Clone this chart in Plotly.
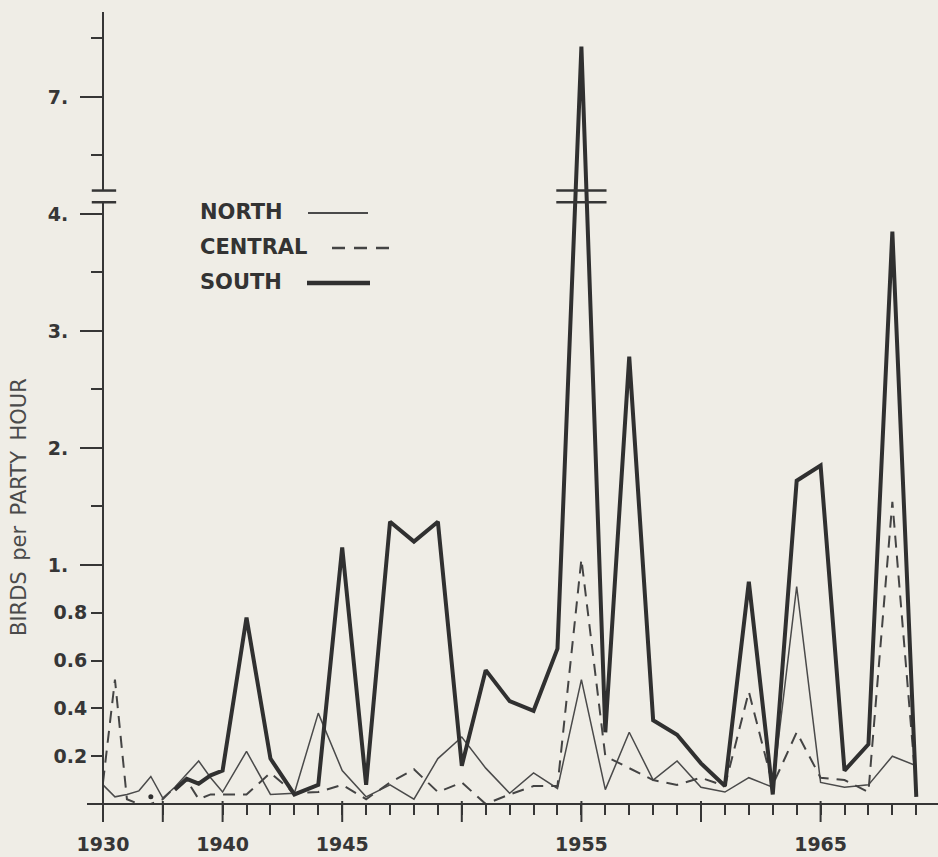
import plotly.graph_objects as go

# ---- data: birds per party hour, Christmas counts 1930-1969 ----
years = list(range(1930, 1970))

north = [0.08, 0.03, 0.04, 0.055, 0.115, 0.025, 0.07, 0.125, 0.18, 0.11,
         0.05, 0.22, 0.04, 0.045, 0.38, 0.14, 0.03, 0.08, 0.02, 0.19,
         0.28, 0.15, 0.045, 0.13, 0.065, 0.52, 0.06, 0.30, 0.10, 0.18,
         0.07, 0.05, 0.11, 0.07, 0.91, 0.09, 0.07, 0.08, 0.20, 0.16]

central = [0.09, 0.52, 0.02, 0.0, 0.0, 0.02, 0.07, 0.10, 0.02, 0.04,
           0.04, 0.04, 0.13, 0.045, 0.05, 0.08, 0.02, 0.09, 0.145, 0.05,
           0.09, 0.0, 0.04, 0.075, 0.075, 1.05, 0.20, 0.15, 0.10, 0.08,
           0.11, 0.075, 0.47, 0.08, 0.30, 0.11, 0.10, 0.05, 1.54, 0.06]

south = [None, None, None, None, 0.03, None, 0.06, 0.105, 0.085, 0.12,
         0.14, 0.78, 0.19, 0.04, 0.08, 1.15, 0.08, 1.37, 1.20, 1.37,
         0.16, 0.56, 0.43, 0.39, 0.65, 7.43, 0.30, 2.78, 0.35, 0.29,
         0.17, 0.075, 0.93, 0.04, 1.72, 1.85, 0.14, 0.25, 3.85, 0.03]

series_names = ["NORTH", "CENTRAL", "SOUTH"]

# axis ticks
y_major_vals = [1, 2, 3, 4, 7]
y_major_text = ["1.", "2.", "3.", "4.", "7."]
y_minor_vals = [0.2, 0.4, 0.6, 0.8, 1.5, 2.5, 3.5, 6.5, 7.5]
y_minor_text = ["0.2", "0.4", "0.6", "0.8", "", "", "", "", ""]
x_major_years = [1930, 1935, 1940, 1945, 1950, 1955, 1960, 1965]
x_major_text = ["1930", "", "1940", "1945", "", "1955", "", "1965"]
x_minor_years = [yr for yr in range(1941, 1970) if yr not in x_major_years]

# ---- piecewise scales ----
BREAK_LO, BREAK_HI = 4.1, 6.2   # values hidden by the axis break
K = 2.043                        # 0-1 band is drawn about twice as tall
PX_PER_UNIT = 117                # pixels per y unit above 1


def ty(v):
    if v is None:
        return None
    if v <= 1:
        return v * K
    if v <= (BREAK_LO + BREAK_HI) / 2:
        return K + (v - 1)
    return K + (v - 1) - (BREAK_HI - BREAK_LO - 0.1)


def tx(yr):
    # the 1930s are drawn at half the yearly spacing
    if yr <= 1940:
        return (yr - 1930) * 0.5
    return 5 + (yr - 1940)


BG = "#efede6"
INK = "#363636"
W, H = 938, 857
ML, MR, MT, MB = 87, 0, 12, 37
X_RANGE = [-0.669, 34.908]
Y_RANGE = [-0.1368, 6.769]
X_AXIS_PX = 804                     # pixel row of the x axis (value 0)
X_AXIS_POS = (H - MB - X_AXIS_PX) / (H - MT - MB)
Y_AXIS_POS = 16 / (W - ML - MR)     # y axis sits at 1930


def pxx(px):
    return (px - ML) / (W - ML - MR)


def pxy(py):
    return (H - MB - py) / (H - MT - MB)


styles = {
    "NORTH": dict(width=1.5, color="#4a4a4a", dash="solid"),
    "CENTRAL": dict(width=2, color="#444444", dash="12px,8px"),
    "SOUTH": dict(width=4, color="#303030", dash="solid"),
}

fig = go.Figure()
for name, vals in zip(series_names, [north, central, south]):
    xs = [tx(y) for y in years]
    ys = [ty(v) for v in vals]
    fig.add_trace(go.Scatter(x=xs, y=ys, mode="lines", name=name,
                             line=styles[name], connectgaps=False,
                             showlegend=False, hoverinfo="skip"))
    # single years without neighbours are shown as dots
    iso_x, iso_y = [], []
    for i, v in enumerate(vals):
        if v is None:
            continue
        left = vals[i - 1] if i > 0 else None
        right = vals[i + 1] if i < len(vals) - 1 else None
        if left is None and right is None:
            iso_x.append(xs[i])
            iso_y.append(ys[i])
    if iso_x:
        fig.add_trace(go.Scatter(x=iso_x, y=iso_y, mode="markers",
                                 marker=dict(size=5, color=styles[name]["color"]),
                                 showlegend=False, hoverinfo="skip"))

# every year from 1941 gets a short tick; the five-year ticks are lengthened below
all_tick_years = sorted(x_major_years + x_minor_years)
label_of = dict(zip(x_major_years, x_major_text))
all_tick_text = [label_of.get(yr, "") for yr in all_tick_years]

# longer ticks at the five-year marks
fig.add_trace(go.Scatter(
    x=[tx(yr) for yr in x_major_years],
    y=[ty(0) - 7.5 / PX_PER_UNIT] * len(x_major_years),
    mode="markers", cliponaxis=False, showlegend=False, hoverinfo="skip",
    marker=dict(symbol="line-ns", size=15, line=dict(color=INK, width=2)),
))

tick_font = dict(family="DejaVu Sans", size=19, color=INK, weight="bold")

fig.update_layout(
    width=W, height=H, autosize=False,
    margin=dict(l=ML, r=MR, t=MT, b=MB),
    paper_bgcolor=BG, plot_bgcolor=BG,
    xaxis=dict(
        domain=[0, 1], range=X_RANGE, anchor="free", position=X_AXIS_POS,
        showgrid=False, zeroline=False, showline=True, linecolor=INK, linewidth=2,
        tickmode="array", tickvals=[tx(y) for y in all_tick_years], ticktext=all_tick_text,
        ticks="outside", ticklen=10, tickwidth=2, tickcolor=INK,
        tickfont=tick_font, ticklabelstandoff=13,
    ),
    yaxis=dict(
        domain=[0, 1], range=Y_RANGE, anchor="free", position=Y_AXIS_POS,
        showgrid=False, zeroline=False, showline=True, linecolor=INK, linewidth=2,
        tickmode="array", tickvals=[ty(v) for v in y_major_vals], ticktext=y_major_text,
        ticks="outside", ticklen=22, tickwidth=2, tickcolor=INK,
        tickfont=tick_font, ticklabelstandoff=8,
    ),
    yaxis2=dict(
        overlaying="y", range=Y_RANGE, anchor="free", position=Y_AXIS_POS, side="left",
        showgrid=False, zeroline=False, showline=False,
        tickmode="array", tickvals=[ty(v) for v in y_minor_vals], ticktext=y_minor_text,
        ticks="outside", ticklen=12, tickwidth=2, tickcolor=INK,
        tickfont=tick_font,
    ),
)

# empty trace so the overlay axis is drawn
fig.add_trace(go.Scatter(x=[None], y=[None], yaxis="y2", showlegend=False))

shapes = []

# ---- axis break on the y axis and through the 1955 spike ----
shapes.append(dict(type="rect", xref="x", yref="y", layer="above",
                   x0=-0.15, x1=0.15, y0=ty(BREAK_LO), y1=ty(BREAK_HI),
                   fillcolor=BG, line=dict(width=0)))
for lvl in (BREAK_LO, BREAK_HI):
    shapes.append(dict(type="line", xref="x", yref="y", layer="above",
                       x0=-0.47, x1=0.55, y0=ty(lvl), y1=ty(lvl),
                       line=dict(color=INK, width=2.5)))
    shapes.append(dict(type="line", xref="x", yref="y", layer="above",
                       x0=tx(1955) - 1.05, x1=tx(1955) + 1.05, y0=ty(lvl), y1=ty(lvl),
                       line=dict(color=INK, width=2.5)))

# ---- legend: label, then line sample ----
legend_rows = [(212, 308, 368), (247, 332, 390), (282, 307, 370)]
annotations = []
for name, (py, lx0, lx1) in zip(series_names, legend_rows):
    annotations.append(dict(xref="paper", yref="paper", x=pxx(198), y=pxy(py),
                            xanchor="left", yanchor="middle", showarrow=False,
                            text=name,
                            font=dict(family="DejaVu Sans", size=21, color="#333333",
                                      weight="bold")))
    st = styles[name]
    shapes.append(dict(type="line", xref="paper", yref="paper",
                       x0=pxx(lx0), x1=pxx(lx1), y0=pxy(py + 1), y1=pxy(py + 1),
                       line=dict(color=st["color"], width=st["width"] + 0.5,
                                 dash="13px,9px" if st["dash"] != "solid" else "solid")))

annotations.append(dict(xref="paper", yref="paper", x=pxx(19), y=pxy(507),
                        xanchor="center", yanchor="middle", showarrow=False,
                        textangle=-90, text="BIRDS\u2002per\u2002PARTY\u2002HOUR",
                        font=dict(family="DejaVu Sans", size=21, color="#4a4a4a")))

fig.update_layout(shapes=shapes, annotations=annotations)

fig.write_html("out.html")
